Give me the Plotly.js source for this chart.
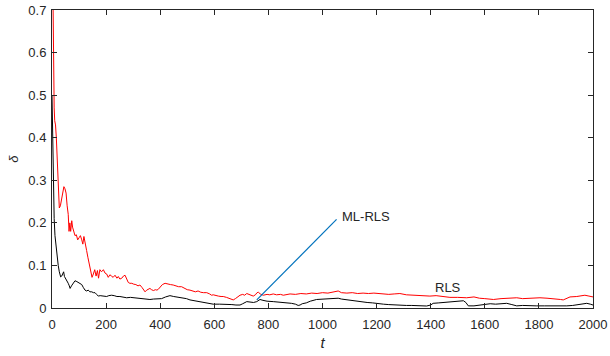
<!DOCTYPE html>
<html>
<head>
<meta charset="utf-8">
<script src="https://cdn.plot.ly/plotly-3.0.1.min.js"></script>
<style>html,body{margin:0;padding:0;background:#fff;}#chart{width:610px;height:356px;}</style>
</head>
<body>
<div id="chart"></div>
<script>
// ML-RLS (red) series: sample index t and value delta
const redT = [0,2,4,6,8,10,13,16,20,24,27,31,36,40,44,48,52,56,60,63,66,69,73,76,80,85,90,95,100,105,110,114,118,122,128,133,138,143,148,153,158,163,168,172,177,183,190,196,202,208,214,220,226,233,240,245,251,258,264,270,276,282,288,295,302,310,318,325,333,338,344,350,356,362,368,375,382,388,393,400,408,418,428,438,448,458,468,479,490,500,510,520,530,540,550,560,572,583,590,596,605,615,625,633,645,655,663,670,678,685,695,705,712,720,730,737,744,752,758,763,770,781,795,805,818,830,845,855,870,880,900,920,940,960,980,1000,1020,1040,1058,1070,1090,1110,1130,1150,1170,1190,1210,1224,1245,1265,1286,1310,1330,1350,1370,1397,1420,1440,1471,1500,1533,1560,1580,1600,1632,1660,1690,1718,1740,1760,1780,1804,1830,1860,1880,1890,1900,1915,1940,1955,1970,1985,2000];
const redV = [0.95,0.80,0.66,0.55,0.47,0.44,0.43,0.40,0.33,0.27,0.235,0.24,0.26,0.28,0.285,0.28,0.27,0.24,0.22,0.18,0.20,0.18,0.205,0.19,0.18,0.17,0.172,0.16,0.165,0.17,0.16,0.15,0.168,0.15,0.135,0.118,0.10,0.085,0.072,0.08,0.09,0.075,0.088,0.07,0.09,0.085,0.09,0.082,0.08,0.072,0.078,0.075,0.072,0.077,0.07,0.074,0.068,0.07,0.075,0.077,0.068,0.06,0.058,0.058,0.056,0.055,0.052,0.054,0.048,0.042,0.038,0.042,0.045,0.046,0.043,0.041,0.043,0.042,0.044,0.05,0.055,0.058,0.056,0.055,0.054,0.052,0.05,0.05,0.046,0.043,0.042,0.04,0.038,0.04,0.037,0.036,0.036,0.033,0.03,0.031,0.029,0.028,0.027,0.027,0.025,0.022,0.02,0.019,0.022,0.026,0.03,0.032,0.03,0.034,0.032,0.03,0.028,0.031,0.036,0.037,0.033,0.03,0.032,0.031,0.033,0.031,0.032,0.03,0.032,0.033,0.032,0.034,0.033,0.035,0.034,0.036,0.035,0.037,0.04,0.036,0.035,0.036,0.034,0.035,0.034,0.035,0.034,0.034,0.032,0.033,0.034,0.031,0.03,0.03,0.029,0.028,0.029,0.027,0.025,0.025,0.024,0.026,0.023,0.022,0.02,0.022,0.023,0.024,0.022,0.023,0.024,0.024,0.023,0.022,0.02,0.019,0.022,0.026,0.027,0.028,0.03,0.028,0.026];

// RLS (black) series
const blackT = [0,2,4,6,8,11,14,17,20,23,27,32,36,40,43,46,50,55,60,64,67,72,78,85,92,98,104,110,116,122,128,134,140,147,153,159,165,171,178,185,195,202,210,220,230,240,251,262,276,290,305,325,340,350,362,375,390,405,420,436,450,460,473,485,497,510,520,535,547,560,575,596,620,646,665,680,695,705,712,720,732,745,757,763,769,780,795,818,840,855,870,885,900,910,917,925,940,955,978,1000,1020,1040,1058,1070,1090,1110,1126,1145,1165,1185,1205,1225,1245,1265,1286,1310,1330,1360,1385,1400,1409,1430,1450,1471,1490,1510,1521,1530,1539,1560,1582,1600,1620,1640,1660,1681,1700,1718,1740,1760,1790,1820,1850,1880,1903,1925,1945,1960,1977,1990,2000];
const blackV = [0.50,0.40,0.32,0.26,0.21,0.17,0.15,0.14,0.125,0.10,0.085,0.073,0.075,0.082,0.085,0.074,0.07,0.066,0.058,0.052,0.046,0.052,0.058,0.064,0.062,0.06,0.058,0.055,0.048,0.042,0.04,0.042,0.038,0.038,0.036,0.036,0.032,0.028,0.029,0.028,0.027,0.027,0.029,0.03,0.029,0.027,0.027,0.025,0.024,0.025,0.024,0.024,0.022,0.021,0.02,0.021,0.022,0.022,0.026,0.029,0.027,0.026,0.025,0.023,0.022,0.019,0.018,0.016,0.015,0.013,0.011,0.009,0.009,0.009,0.008,0.007,0.007,0.01,0.013,0.015,0.014,0.013,0.015,0.018,0.02,0.018,0.016,0.015,0.014,0.012,0.013,0.011,0.009,0.006,0.007,0.01,0.012,0.016,0.02,0.021,0.022,0.022,0.023,0.021,0.019,0.017,0.016,0.014,0.013,0.012,0.01,0.009,0.008,0.007,0.007,0.006,0.006,0.005,0.0047,0.007,0.011,0.012,0.013,0.0135,0.015,0.016,0.017,0.013,0.005,0.005,0.007,0.009,0.01,0.009,0.01,0.011,0.008,0.005,0.006,0.005,0.005,0.005,0.005,0.004,0.005,0.006,0.008,0.01,0.011,0.009,0.007];

const xTicks = [0,200,400,600,800,1000,1200,1400,1600,1800,2000];
const yTicks = [0,0.1,0.2,0.3,0.4,0.5,0.6,0.7];
const yTickText = ['0','0.1','0.2','0.3','0.4','0.5','0.6','0.7'];

const axisColor = '#262626';
const fontFam = '"Liberation Sans", Arial, Helvetica, sans-serif';

const data = [
  {x: blackT, y: blackV, type: 'scatter', mode: 'lines', line: {color: '#000000', width: 1}, name: 'RLS'},
  {x: redT, y: redV, type: 'scatter', mode: 'lines', line: {color: '#ff0000', width: 1}, name: 'ML-RLS'}
];

const layout = {
  width: 610, height: 356,
  margin: {l: 52, r: 17, t: 10, b: 48},
  paper_bgcolor: '#ffffff', plot_bgcolor: '#ffffff',
  showlegend: false,
  font: {family: fontFam, size: 13, color: axisColor},
  xaxis: {
    range: [0, 2000], tickvals: xTicks, ticktext: xTicks.map(String),
    ticks: 'inside', ticklen: 5, tickcolor: axisColor, tickwidth: 1,
    showline: true, linecolor: axisColor, linewidth: 1, mirror: 'ticks',
    showgrid: false, zeroline: false, ticklabelstandoff: 4,
    tickfont: {family: fontFam, size: 13, color: axisColor},
    title: {text: '<i>t</i>', font: {family: fontFam, size: 15, color: axisColor}, standoff: 6}
  },
  yaxis: {
    range: [0, 0.7], tickvals: yTicks, ticktext: yTickText,
    ticks: 'inside', ticklen: 5, tickcolor: axisColor, tickwidth: 1,
    showline: true, linecolor: axisColor, linewidth: 1, mirror: 'ticks',
    showgrid: false, zeroline: false, ticklabelstandoff: 2,
    tickfont: {family: fontFam, size: 13, color: axisColor},
    title: {text: '<i>δ</i>', font: {family: fontFam, size: 13, color: axisColor}, standoff: 6}
  },
  shapes: [
    {type: 'line', xref: 'x', yref: 'y', x0: 757, y0: 0.019, x1: 1052, y1: 0.208, line: {color: '#0072BD', width: 1.2}}
  ],
  annotations: [
    {x: 1065, y: 0.216, xref: 'x', yref: 'y', text: 'ML-RLS', showarrow: false, xanchor: 'left', yanchor: 'middle', font: {family: fontFam, size: 13, color: axisColor}},
    {x: 1464, y: 0.047, xref: 'x', yref: 'y', text: 'RLS', showarrow: false, xanchor: 'center', yanchor: 'middle', font: {family: fontFam, size: 13, color: axisColor}}
  ]
};

Plotly.newPlot('chart', data, layout, {displayModeBar: false, staticPlot: true});
</script>
</body>
</html>
